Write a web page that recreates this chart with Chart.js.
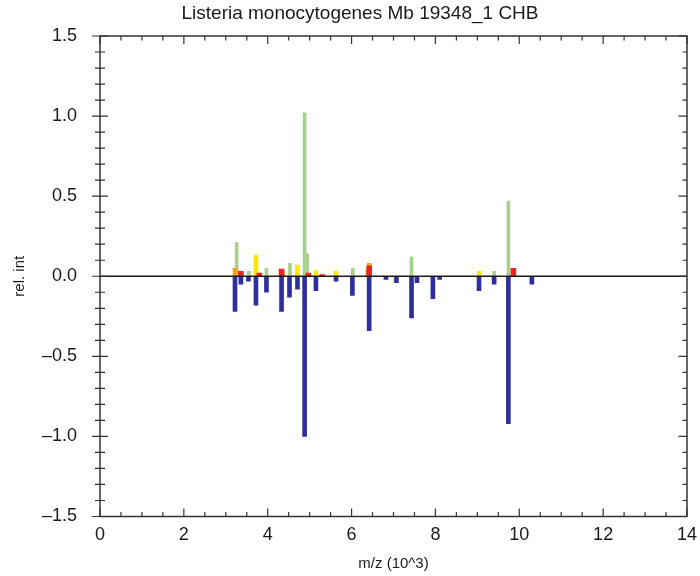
<!DOCTYPE html>
<html><head><meta charset="utf-8">
<script src="https://cdn.jsdelivr.net/npm/chart.js@4.4.0/dist/chart.umd.min.js"></script>
<style>html,body{margin:0;padding:0;background:#fff}#wrap{width:700px;height:576px}</style>
</head><body><div id="wrap"><canvas id="c" width="700" height="576"></canvas></div>
<script>
const chartTitle = 'Listeria monocytogenes Mb 19348_1 CHB';
const xAxisTitle = 'm/z (10^3)';
const yAxisTitle = 'rel. int';
const xTickLabels = ['0','2','4','6','8','10','12','14'];
const yTickLabels = ['\u20131.5','\u20131.0','\u20130.5','0.0','0.5','1.0','1.5'];

// negative (blue) spectrum
const blueMz  = [3.22, 3.36, 3.54, 3.72, 3.97, 4.33, 4.52, 4.71, 4.88, 5.15, 5.63, 6.02, 6.42, 6.82, 7.07, 7.43, 7.56, 7.94, 8.10, 9.04, 9.40, 9.74, 10.30];
const blueInt = [-0.22, -0.05, -0.03, -0.18, -0.10, -0.22, -0.13, -0.08, -1.00, -0.09, -0.03, -0.12, -0.34, -0.02, -0.04, -0.26, -0.04, -0.14, -0.02, -0.09, -0.05, -0.92, -0.05];

// positive spectrum, coloured classes
const greenMz  = [3.26, 3.55, 3.97, 4.53, 4.88, 4.94, 6.03, 7.43, 9.40, 9.74];
const greenInt = [0.21, 0.03, 0.05, 0.08, 1.02, 0.14, 0.05, 0.12, 0.03, 0.47];
const yellowMz  = [3.72, 4.71, 5.15, 5.63, 9.05, 6.38];
const yellowInt = [0.13, 0.07, 0.035, 0.03, 0.03, 0.04];
const orangeMz  = [3.22, 6.42, 4.35];
const orangeInt = [0.05, 0.08, 0.03];
const redMz  = [3.36, 3.80, 4.33, 4.97, 5.30, 6.42, 9.86];
const redInt = [0.03, 0.02, 0.045, 0.02, 0.01, 0.065, 0.05];

const pts = (mz, v) => mz.map((m, i) => ({x: m, y: v[i]}));
const FONT = "'Liberation Sans', Arial, sans-serif";

const frame = {
  id: 'frame',
  afterDatasetsDraw(chart) {
    const {ctx, chartArea: a, scales: {x, y}} = chart;
    ctx.save();
    ctx.strokeStyle = '#1a1a1a';
    ctx.lineWidth = 1.4;
    const y0 = y.getPixelForValue(0);
    ctx.beginPath(); ctx.moveTo(a.left, y0); ctx.lineTo(a.right, y0); ctx.stroke();
    ctx.strokeStyle = '#333';
    ctx.lineWidth = 1.5;
    ctx.strokeRect(a.left, a.top, a.right - a.left, a.bottom - a.top);
    ctx.lineWidth = 1.2;
    ctx.beginPath();
    for (let i = 0; i <= 28; i++) {
      const v = i / 2;
      const px = x.getPixelForValue(v);
      const L = (i % 4 === 0) ? 8 : 4.5;
      ctx.moveTo(px, a.bottom); ctx.lineTo(px, a.bottom - L);
      ctx.moveTo(px, a.top); ctx.lineTo(px, a.top + L);
    }
    for (let i = -15; i <= 15; i++) {
      const py = y.getPixelForValue(i / 10);
      const major = i % 5 === 0;
      const L = major ? 8 : 5;
      ctx.moveTo(a.left - L, py); ctx.lineTo(a.left + L, py);
      ctx.moveTo(a.right, py); ctx.lineTo(a.right - (major ? 8.5 : 4.5), py);
    }
    ctx.stroke();
    ctx.restore();
  }
};

new Chart(document.getElementById('c'), {
  type: 'bar',
  data: {
    datasets: [
      {label: 'red', data: pts(redMz, redInt), backgroundColor: '#e8261f', barThickness: 5, grouped: false},
      {label: 'orange', data: pts(orangeMz, orangeInt), backgroundColor: '#f4a21c', barThickness: 4, grouped: false},
      {label: 'yellow', data: pts(yellowMz, yellowInt), backgroundColor: '#ffe600', barThickness: 4, grouped: false},
      {label: 'green', data: pts(greenMz, greenInt), backgroundColor: '#a9d18e', barThickness: 3, grouped: false},
      {label: 'blue', data: pts(blueMz, blueInt), backgroundColor: '#2e2f9a', barThickness: 4, grouped: false}
    ]
  },
  options: {
    responsive: false,
    animation: false,
    devicePixelRatio: 1,
    layout: {padding: {left: 25, right: 5, top: 0, bottom: 0}},
    plugins: {
      legend: {display: false},
      tooltip: {enabled: false},
      title: {display: true, text: chartTitle, color: '#1a1a1a',
        font: {family: FONT, size: 19, weight: 'normal'}, padding: {top: 2, bottom: 11.2}}
    },
    scales: {
      x: {
        type: 'linear', min: 0, max: 14, offset: false,
        grid: {display: true, drawOnChartArea: false, drawTicks: true, tickLength: 5,
          tickColor: 'rgba(0,0,0,0)', color: 'rgba(0,0,0,0)', offset: false},
        border: {display: false},
        ticks: {stepSize: 2, padding: 3, color: '#1a1a1a', autoSkip: false, maxRotation: 0,
          font: {family: FONT, size: 18}, callback: (v, i) => xTickLabels[i]},
        title: {display: true, text: xAxisTitle, color: '#1a1a1a',
          font: {family: FONT, size: 15}, padding: {top: 0, bottom: 3}},
        afterFit: s => { s.height = 59.5; }
      },
      y: {
        min: -1.5, max: 1.5,
        grid: {display: false, drawTicks: false},
        border: {display: false},
        ticks: {stepSize: 0.5, padding: 23, color: '#1a1a1a', autoSkip: false,
          font: {family: FONT, size: 18}, callback: (v, i) => yTickLabels[i]},
        title: {display: true, text: yAxisTitle, color: '#1a1a1a',
          font: {family: FONT, size: 15}, padding: {top: -14, bottom: 0}},
        afterFit: s => { s.width = 75; }
      }
    }
  },
  plugins: [frame]
});
</script>
</body></html>
